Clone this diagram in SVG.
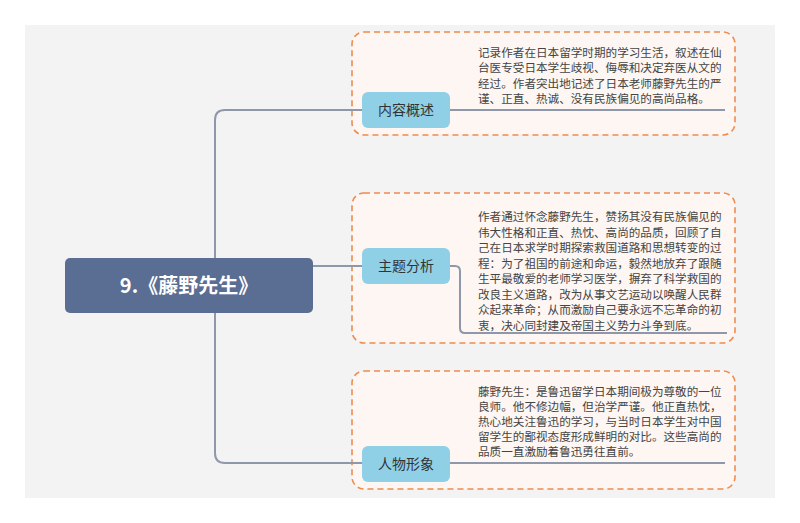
<svg xmlns="http://www.w3.org/2000/svg" width="800" height="523" viewBox="0 0 800 523">
<style>
.box{fill:#fdf6f2;stroke:#ee8c4f;stroke-width:1.6;stroke-dasharray:6 4}
.tag{fill:#8fd0e6}
.tl{font-family:"Noto Sans CJK SC",sans-serif;font-size:14px;fill:#333}
.t{font-family:"Noto Sans CJK SC",sans-serif;font-size:11.6px;fill:#444}
.ln{fill:none;stroke:#8f97ab;stroke-width:2}
</style>
<rect x="0" y="0" width="800" height="523" fill="#fff"/>
<rect x="25" y="25" width="750" height="473" fill="#f3f3f3"/>
<g id="boxes">
<rect class="box" x="352" y="32" width="383" height="103" rx="12"/>
<rect class="box" x="352" y="193" width="383" height="150" rx="12"/>
<rect class="box" x="352" y="371" width="383" height="118" rx="12"/>
</g>
<g id="connectors">
<path class="ln" d="M362 110 H225 Q215 110 215 120 V453 Q215 463 225 463 H362"/>
<path class="ln" d="M313 266 H362"/>
<path class="ln" d="M450 110 H725"/>
<path class="ln" d="M450 266 H455 Q460 266 460 271 V328 Q460 333 465 333 H727"/>
<path class="ln" d="M450 463 H725"/>
</g>
<g id="center">
<rect x="65" y="258" width="248" height="55" rx="5" fill="#5a6d93"/>
<text x="189" y="293" text-anchor="middle" font-family="Noto Sans CJK SC,sans-serif" font-size="20" font-weight="bold" fill="#fff">9.《藤野先生》</text>
</g>
<g id="n1">
<rect class="tag" x="362" y="92" width="88" height="36" rx="6"/>
<text class="tl" x="406" y="115" text-anchor="middle">内容概述</text>
<text class="t"><tspan x="478" y="57">记录作者在日本留学时期的学习生活，叙述在仙</tspan><tspan x="478" y="72.3">台医专受日本学生歧视、侮辱和决定弃医从文的</tspan><tspan x="478" y="87.6">经过。作者突出地记述了日本老师藤野先生的严</tspan><tspan x="478" y="102.9">谨、正直、热诚、没有民族偏见的高尚品格。</tspan></text>
</g>
<g id="n2">
<rect class="tag" x="362" y="248" width="88" height="36" rx="6"/>
<text class="tl" x="406" y="271" text-anchor="middle">主题分析</text>
<text class="t"><tspan x="478" y="221">作者通过怀念藤野先生，赞扬其没有民族偏见的</tspan><tspan x="478" y="236.5">伟大性格和正直、热忱、高尚的品质，回顾了自</tspan><tspan x="478" y="252">己在日本求学时期探索救国道路和思想转变的过</tspan><tspan x="478" y="267.5">程：为了祖国的前途和命运，毅然地放弃了跟随</tspan><tspan x="478" y="283">生平最敬爱的老师学习医学，摒弃了科学救国的</tspan><tspan x="478" y="298.5">改良主义道路，改为从事文艺运动以唤醒人民群</tspan><tspan x="478" y="314">众起来革命；从而激励自己要永远不忘革命的初</tspan><tspan x="478" y="329.5">衷，决心同封建及帝国主义势力斗争到底。</tspan></text>
</g>
<g id="n3">
<rect class="tag" x="362" y="446" width="88" height="36" rx="6"/>
<text class="tl" x="406" y="469" text-anchor="middle">人物形象</text>
<text class="t"><tspan x="478" y="396">藤野先生：是鲁迅留学日本期间极为尊敬的一位</tspan><tspan x="478" y="411">良师。他不修边幅，但治学严谨。他正直热忱，</tspan><tspan x="478" y="426">热心地关注鲁迅的学习，与当时日本学生对中国</tspan><tspan x="478" y="441">留学生的鄙视态度形成鲜明的对比。这些高尚的</tspan><tspan x="478" y="456">品质一直激励着鲁迅勇往直前。</tspan></text>
</g>
</svg>
